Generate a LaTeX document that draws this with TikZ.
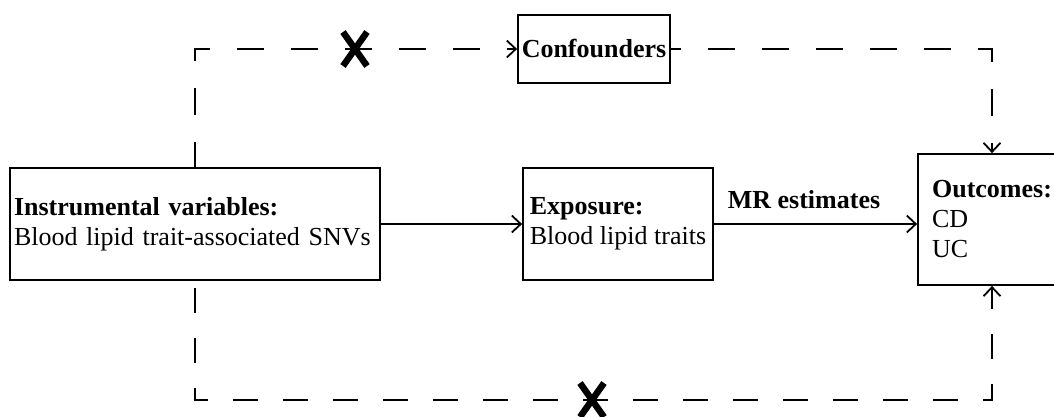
\documentclass[tikz,border=0pt]{standalone}
\usepackage{fontspec}
\setmainfont{Liberation Serif}
\usetikzlibrary{arrows.meta}
\tikzset{
  box/.style={draw, line width=1.8pt, align=left, inner ysep=0pt, font=\fontsize{26}{30}\selectfont},
  conn/.style={line width=1.8pt, -{Straight Barb[length=9pt,width=17pt,line width=1.8pt]}},
  dconnA/.style={conn, dash pattern=on 27pt off 27pt},
  dconnB/.style={conn, dash pattern=on 25pt off 25pt},
  xmark/.style={line width=6.5pt},
  lbl/.style={font=\bfseries\fontsize{26}{30}\selectfont, anchor=base, inner sep=0pt}
}
\begin{document}
\begin{tikzpicture}[x=1pt,y=-1pt]
\useasboundingbox (0,0) rectangle (1054,416);
\node[box, inner xsep=4pt, text width=362pt, minimum height=112pt] (iv) at (195,224) {\textbf{Instrumental variables:}\\Blood lipid trait-associated SNVs};
\node[box, inner xsep=0pt, minimum width=190pt, minimum height=112pt] (exp) at (618,224) {\textbf{Exposure:}\\Blood lipid traits};
\node[box, inner sep=0pt, minimum width=152pt, minimum height=68pt] (conf) at (594,49) {\textbf{Confounders}};
\node[box, inner xsep=0pt, minimum width=148pt, minimum height=131pt] (out) at (992,219.5) {\textbf{Outcomes:}\\CD\\UC};
\node[lbl] (mr) at (804,208) {MR estimates};
\coordinate (bl) at (195,400);
\draw[conn] (iv.east) -- (exp.west);
\draw[conn] (exp.east) -- (exp.east -| out.west);
\draw[dconnA, dash phase=2pt] (iv.north) |- (conf.west);
\draw[dconnA, dash phase=17pt] (conf.east) -| (out.north);
\draw[dconnB, dash phase=43pt] (iv.south) -- (bl) -| (out.south);
\draw[xmark, shift={(355,49)}] (-12,-17) -- (12,17) (-12,17) -- (12,-17);
\draw[xmark, shift={(592,400)}] (-12,-17) -- (12,17) (-12,17) -- (12,-17);
\end{tikzpicture}
\end{document}
